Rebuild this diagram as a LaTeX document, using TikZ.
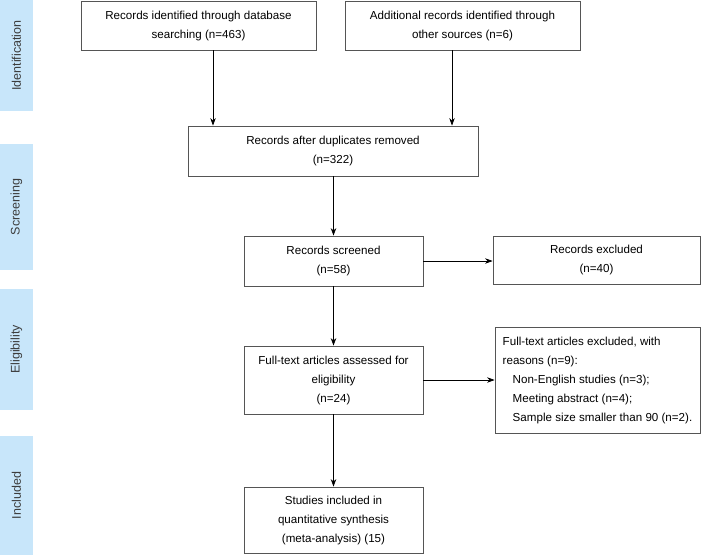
\documentclass[tikz,border=0pt]{standalone}
\usepackage{fontspec}
\setmainfont{Liberation Sans}
\usetikzlibrary{arrows.meta, positioning}
\definecolor{phaseblue}{RGB}{200, 230, 250}
\definecolor{phasetext}{RGB}{60, 60, 60}
\definecolor{boxline}{RGB}{85, 85, 85}

\begin{document}
\begin{tikzpicture}[x=1pt, y=-1pt,
    box/.style={rectangle, draw=boxline, line width=0.8pt, inner sep=0pt, align=center, font=\fontsize{11.6}{19}\selectfont},
    phase/.style={rectangle, fill=phaseblue, rotate=90, minimum height=33pt, inner sep=0pt, text=phasetext, font=\fontsize{12.5}{14}\selectfont},
    arr/.style={-{Stealth[length=7.5pt, width=5.5pt]}, line width=0.7pt}
]
\useasboundingbox (0,0) rectangle (702,555);

% phases
\node[phase, minimum width=111pt] (ident) at (16.5,55.5) {Identification};
\node[phase, minimum width=126pt] (screen) at (16.5,207) {Screening};
\node[phase, minimum width=121pt] (elig) at (16.5,349.5) {Eligibility};
\node[phase, minimum width=119pt] (incl) at (16.5,495.5) {Included};

% boxes
\node[box, minimum width=235pt, minimum height=49pt] (db) at (198.5,25.5) {Records identified through database\\searching (n=463)};
\node[box, minimum width=235pt, minimum height=49pt] (other) at (462.5,25.5) {Additional records identified through\\other sources (n=6)};
\node[box, minimum width=290pt, minimum height=50pt] (dup) at (333,151) {Records after duplicates removed\\(n=322)};
\node[box, minimum width=179pt, minimum height=50pt] (screened) at (333.5,261) {Records screened\\(n=58)};
\node[box, minimum width=207pt, minimum height=48pt] (excl) at (596.5,260) {Records excluded\\(n=40)};
\node[box, minimum width=179pt, minimum height=68pt] (fulltext) at (333.5,380) {Full-text articles assessed for\\eligibility\\(n=24)};
\node[box, minimum width=205pt, minimum height=106pt, align=left] (ftexcl) at (597.5,380) {Full-text articles excluded, with\\reasons (n=9):\\\hspace*{10pt}Non-English studies (n=3);\\\hspace*{10pt}Meeting abstract (n=4);\\\hspace*{10pt}Sample size smaller than 90 (n=2).};
\node[box, minimum width=179pt, minimum height=66pt] (included) at (333.5,520) {Studies included in\\quantitative synthesis\\(meta-analysis) (15)};

% arrows
\draw[arr] ([xshift=14.5pt]db.south) -- ([xshift=14.5pt]db.south |- dup.north);
\draw[arr] ([xshift=-10.5pt]other.south) -- ([xshift=-10.5pt]other.south |- dup.north);
\draw[arr] (dup.south -| screened.north) -- (screened.north);
\draw[arr] (screened.east) -- (screened.east -| excl.west);
\draw[arr] (screened.south) -- (fulltext.north);
\draw[arr] (fulltext.east) -- (fulltext.east -| ftexcl.west);
\draw[arr] (fulltext.south) -- (included.north);
\end{tikzpicture}
\end{document}
